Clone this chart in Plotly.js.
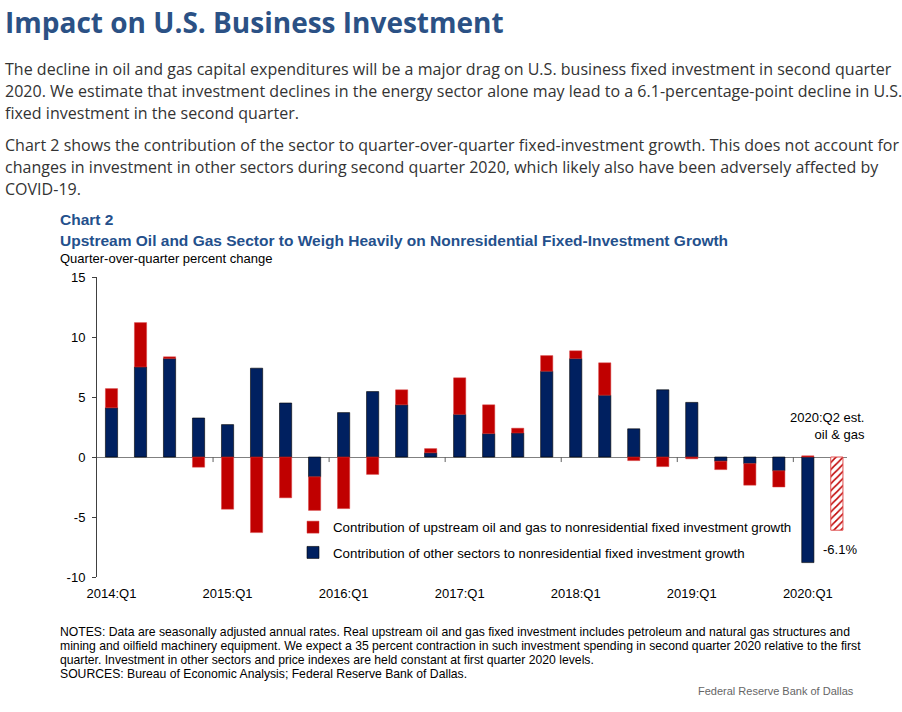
<!DOCTYPE html>
<html>
<head>
<meta charset="utf-8">
<script src="https://cdn.plot.ly/plotly-3.0.1.min.js"></script>
<style>
  html, body { margin: 0; padding: 0; background: #fff; width: 902px; height: 712px; overflow: hidden; }
  #wrap { position: relative; width: 902px; height: 712px; }
  #chart { position: absolute; left: 0; top: 0; width: 902px; height: 712px; }
  .hdr { position: absolute; left: 5px; white-space: nowrap; font-family: 'Open Sans', sans-serif; }
  #title { top: 3px; font-size: 28px; font-weight: 700; color: #2b5185; }
  .p { font-size: 16px; color: #333; line-height: 22px; letter-spacing: 0.02px; }
</style>
</head>
<body>
<div id="wrap">
  <div id="chart"></div>
  <div id="title" class="hdr">Impact on U.S. Business Investment</div>
  <div class="hdr p" style="top:58px;">The decline in oil and gas capital expenditures will be a major drag on U.S. business fixed investment in second quarter<br>2020. We estimate that investment declines in the energy sector alone may lead to a 6.1-percentage-point decline in U.S.<br>fixed investment in the second quarter.</div>
  <div class="hdr p" style="top:134px;">Chart 2 shows the contribution of the sector to quarter-over-quarter fixed-investment growth. This does not account for<br>changes in investment in other sectors during second quarter 2020, which likely also have been adversely affected by<br>COVID-19.</div>
</div>
<script>
// ---- data ----
const quarters = [
  "2014:Q1","2014:Q2","2014:Q3","2014:Q4",
  "2015:Q1","2015:Q2","2015:Q3","2015:Q4",
  "2016:Q1","2016:Q2","2016:Q3","2016:Q4",
  "2017:Q1","2017:Q2","2017:Q3","2017:Q4",
  "2018:Q1","2018:Q2","2018:Q3","2018:Q4",
  "2019:Q1","2019:Q2","2019:Q3","2019:Q4",
  "2020:Q1","2020:Q2"
];
const otherSectors = [4.1, 7.5, 8.2, 3.25, 2.7, 7.4, 4.5, -1.65, 3.7, 5.45, 4.35, 0.35,
  3.55, 1.95, 2.0, 7.15, 8.2, 5.15, 2.35, 5.6, 4.55, -0.35, -0.55, -1.15, -8.8, null];
const oilGas = [1.6, 3.7, 0.15, -0.85, -4.35, -6.3, -3.4, -2.8, -4.3, -1.45, 1.25, 0.35,
  3.05, 2.4, 0.4, 1.3, 0.65, 2.7, -0.3, -0.8, -0.15, -0.7, -1.8, -1.35, 0.1, null];
const estQuarter = ["2020:Q2"];
const estOilGas = [-6.1];
const tickLabels = ["2014:Q1","2015:Q1","2016:Q1","2017:Q1","2018:Q1","2019:Q1","2020:Q1"];
const yTicks = [15, 10, 5, 0, -5, -10];
const boundaryTicks = [3.5, 7.5, 11.5, 15.5, 19.5, 23.5];
const noteLines = [
  'NOTES: Data are seasonally adjusted annual rates. Real upstream oil and gas fixed investment includes petroleum and natural gas structures and',
  'mining and oilfield machinery equipment. We expect a 35 percent contraction in such investment spending in second quarter 2020 relative to the first',
  'quarter. Investment in other sectors and price indexes are held constant at first quarter 2020 levels.',
  'SOURCES: Bureau of Economic Analysis; Federal Reserve Bank of Dallas.'
];

const RED = '#c00000', NAVY = '#002060';

// pixel -> paper helpers (plot area: x 97..847, y 277..577)
const L = 97, R = 55, T = 277, B = 135, W = 902, H = 712;
const pw = W - L - R, ph = H - T - B;
const px = v => (v - L) / pw;
const py = v => (H - B - v) / ph;

const traces = [
  {
    type: 'bar', x: quarters, y: otherSectors, name: 'Contribution of other sectors to nonresidential fixed investment growth',
    marker: { color: NAVY, line: { color: '#000000', width: 0.6 } }, legendgroup: 'b', legendrank: 2, hoverinfo: 'x+y'
  },
  {
    type: 'bar', x: quarters, y: oilGas, name: 'Contribution of upstream oil and gas to nonresidential fixed investment growth',
    marker: { color: RED, line: { color: '#d84040', width: 0.5 } }, legendgroup: 'a', legendrank: 1, hoverinfo: 'x+y'
  },
  {
    type: 'bar', x: estQuarter, y: estOilGas, name: '2020:Q2 est. oil & gas', showlegend: false,
    marker: { color: '#ffffff', line: { color: '#e05050', width: 1 },
      pattern: { shape: '/', fgcolor: RED, bgcolor: '#ffffff', size: 5, solidity: 0.3 } },
    hoverinfo: 'x+y'
  }
];

const shapes = boundaryTicks.map(b => ({
  type: 'line', xref: 'x', yref: 'y', x0: b, x1: b, y0: 0, y1: -0.42,
  line: { color: '#606060', width: 1 }
}));

const font = 'Arial, "Liberation Sans", sans-serif';
const annotations = [
  { text: '<b>Chart 2</b>', x: px(58), y: py(219), xanchor: 'left', yanchor: 'middle',
    font: { family: font, size: 15.5, color: '#24508c' } },
  { text: '<b>Upstream Oil and Gas Sector to Weigh Heavily on Nonresidential Fixed-Investment Growth</b>',
    x: px(58), y: py(240), xanchor: 'left', yanchor: 'middle',
    font: { family: font, size: 15.5, color: '#24508c' } },
  { text: 'Quarter-over-quarter percent change', x: px(58), y: py(258), xanchor: 'left', yanchor: 'middle',
    font: { family: font, size: 13, color: '#000' } },
  { text: '2020:Q2 est.<br>oil & gas', x: px(867), y: py(426), xanchor: 'right', yanchor: 'middle', align: 'right',
    font: { family: font, size: 13, color: '#000' } },
  { text: '-6.1%', x: px(840), y: py(549), xanchor: 'center', yanchor: 'middle',
    font: { family: font, size: 13, color: '#000' } },
  { text: 'Federal Reserve Bank of Dallas', x: px(856), y: py(691), xanchor: 'right', yanchor: 'middle',
    font: { family: font, size: 11, color: '#666' } }
].concat(noteLines.map((t, i) => ({
  text: t, x: px(58), y: py(632 + 14 * i), xanchor: 'left', yanchor: 'middle',
  font: { family: font, size: 12.2, color: '#000' }
}))).map(a => Object.assign({ xref: 'paper', yref: 'paper', showarrow: false }, a));

const layout = {
  width: W, height: H,
  margin: { l: L, r: R, t: T, b: B, pad: 0 },
  paper_bgcolor: '#ffffff', plot_bgcolor: '#ffffff',
  barmode: 'relative', bargap: 0.58,
  font: { family: font, size: 13, color: '#000' },
  showlegend: true,
  legend: {
    x: px(293), y: py(512), xanchor: 'left', yanchor: 'top',
    traceorder: 'grouped', tracegroupgap: 5,
    font: { family: font, size: 13.3, color: '#000' },
    bgcolor: 'rgba(0,0,0,0)', itemclick: false
  },
  xaxis: {
    type: 'category', categoryorder: 'array', categoryarray: quarters,
    range: [-0.5, 25.35], tickmode: 'array', tickvals: tickLabels, ticktext: tickLabels,
    showgrid: false, zeroline: false, showline: false, ticks: '', ticklabelstandoff: 7,
    tickfont: { family: font, size: 13, color: '#000' }, fixedrange: true
  },
  yaxis: {
    range: [-10, 15], tickmode: 'array', tickvals: yTicks, ticktext: yTicks.map(String),
    showgrid: false, zeroline: true, zerolinecolor: '#808080', zerolinewidth: 1,
    showline: true, linecolor: '#404040', linewidth: 1, ticks: 'outside', ticklen: 4,
    ticklabelstandoff: 4,
    tickcolor: '#404040', tickfont: { family: font, size: 13, color: '#000' }, fixedrange: true
  },
  shapes: shapes,
  annotations: annotations
};

Plotly.newPlot('chart', traces, layout, { displayModeBar: false, staticPlot: true });
</script>
</body>
</html>
